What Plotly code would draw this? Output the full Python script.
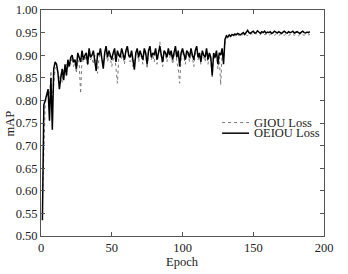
import plotly.graph_objects as go

epochs = list(range(1, 191))

oeiou = [
    0.535, 0.790, 0.800, 0.815, 0.825, 0.755, 0.850, 0.735, 0.870, 0.885,
    0.880, 0.860, 0.825, 0.850, 0.870, 0.845, 0.880, 0.855, 0.890, 0.875,
    0.895, 0.900, 0.885, 0.890, 0.870, 0.905, 0.895, 0.885, 0.910, 0.890,
    0.900, 0.905, 0.880, 0.915, 0.895, 0.900, 0.910, 0.890, 0.865, 0.905,
    0.900, 0.915, 0.895, 0.870, 0.905, 0.920, 0.895, 0.910, 0.900, 0.890,
    0.905, 0.915, 0.885, 0.910, 0.900, 0.895, 0.915, 0.905, 0.890, 0.910,
    0.920, 0.900, 0.895, 0.910, 0.885, 0.868, 0.905, 0.915, 0.895, 0.910,
    0.900, 0.890, 0.915, 0.905, 0.880, 0.910, 0.920, 0.895, 0.905, 0.900,
    0.915, 0.890, 0.905, 0.920, 0.900, 0.885, 0.910, 0.905, 0.895, 0.915,
    0.900, 0.910, 0.890, 0.905, 0.920, 0.895, 0.910, 0.875, 0.905, 0.915,
    0.900, 0.890, 0.910, 0.905, 0.895, 0.915, 0.900, 0.890, 0.910, 0.920,
    0.895, 0.905, 0.885, 0.910, 0.900, 0.895, 0.915, 0.890, 0.905, 0.895,
    0.855, 0.905, 0.895, 0.910, 0.880, 0.905, 0.900, 0.915, 0.880, 0.935,
    0.943, 0.940, 0.945, 0.942, 0.946, 0.944, 0.947, 0.945, 0.948, 0.946,
    0.945, 0.948, 0.950, 0.946, 0.952, 0.955, 0.950, 0.948, 0.951, 0.953,
    0.949, 0.950, 0.954, 0.951, 0.948, 0.952, 0.950, 0.953, 0.949, 0.951,
    0.950, 0.952, 0.948, 0.950, 0.953, 0.951, 0.949, 0.952, 0.950, 0.948,
    0.951, 0.953, 0.950, 0.949, 0.952, 0.950, 0.951, 0.953, 0.949, 0.950,
    0.952, 0.950, 0.948, 0.951, 0.953, 0.950, 0.949, 0.951, 0.950, 0.952,
]

giou = [
    0.570, 0.720, 0.795, 0.805, 0.820, 0.790, 0.865, 0.800, 0.830, 0.870,
    0.875, 0.855, 0.845, 0.860, 0.840, 0.870, 0.860, 0.880, 0.870, 0.885,
    0.880, 0.895, 0.875, 0.885, 0.860, 0.890, 0.880, 0.815, 0.895, 0.885,
    0.890, 0.900, 0.875, 0.905, 0.890, 0.895, 0.880, 0.900, 0.885, 0.860,
    0.895, 0.905, 0.890, 0.880, 0.900, 0.910, 0.885, 0.900, 0.895, 0.875,
    0.890, 0.905, 0.870, 0.838, 0.895, 0.905, 0.890, 0.900, 0.880, 0.905,
    0.910, 0.895, 0.885, 0.900, 0.875, 0.890, 0.900, 0.910, 0.885, 0.905,
    0.895, 0.880, 0.910, 0.900, 0.870, 0.905, 0.915, 0.890, 0.900, 0.885,
    0.910, 0.880, 0.900, 0.930, 0.895, 0.875, 0.905, 0.900, 0.885, 0.910,
    0.895, 0.905, 0.880, 0.900, 0.915, 0.885, 0.870, 0.838, 0.895, 0.910,
    0.895, 0.880, 0.905, 0.900, 0.885, 0.910, 0.895, 0.875, 0.905, 0.915,
    0.890, 0.900, 0.880, 0.905, 0.895, 0.885, 0.910, 0.880, 0.900, 0.890,
    0.852, 0.900, 0.890, 0.905, 0.870, 0.895, 0.834, 0.905, 0.890, 0.925,
    0.940, 0.938, 0.942, 0.940, 0.944, 0.941, 0.945, 0.942, 0.946, 0.943,
    0.947, 0.944, 0.946, 0.949, 0.945, 0.943, 0.947, 0.950, 0.946, 0.944,
    0.946, 0.948, 0.945, 0.943, 0.946, 0.948, 0.944, 0.946, 0.947, 0.945,
    0.943, 0.946, 0.948, 0.945, 0.944, 0.947, 0.945, 0.943, 0.946, 0.948,
    0.945, 0.944, 0.947, 0.946, 0.943, 0.945, 0.948, 0.946, 0.944, 0.947,
    0.945, 0.943, 0.946, 0.948, 0.945, 0.944, 0.946, 0.947, 0.945, 0.946,
]

x_ticks = [0, 50, 100, 150, 200]
y_ticks = [0.50, 0.55, 0.60, 0.65, 0.70, 0.75, 0.80, 0.85, 0.90, 0.95, 1.00]
series_names = ["GIOU Loss", "OEIOU Loss"]

FONT = "Liberation Serif, Times New Roman, serif"
TXT = "#222222"

fig = go.Figure()
giou_line = dict(color="#7a7a7a", width=1, dash="dot")
oeiou_line = dict(color="#000000", width=1.5)
fig.add_trace(go.Scatter(x=epochs, y=giou, mode="lines", name=series_names[0],
                         line=giou_line, showlegend=False))
fig.add_trace(go.Scatter(x=epochs, y=oeiou, mode="lines", name=series_names[1],
                         line=oeiou_line, showlegend=False))

axis_common = dict(showline=True, linecolor="#555555", linewidth=1, mirror="allticks",
                   ticks="inside", ticklen=4, tickcolor="#555555", showgrid=False,
                   zeroline=False, automargin=False,
                   tickfont=dict(family=FONT, size=12.5, color=TXT))

fig.update_xaxes(range=[0, 200], tickvals=x_ticks, **axis_common)
fig.update_yaxes(range=[0.5, 1.0], tickvals=y_ticks, ticktext=[f"{v:.2f}" for v in y_ticks],
                 **axis_common)

# axis titles
fig.add_annotation(text="Epoch", xref="paper", yref="paper", x=0.5, y=-0.115,
                   xanchor="center", yanchor="middle", showarrow=False,
                   font=dict(family=FONT, size=12.5, color=TXT))
fig.add_annotation(text="mAP", xref="paper", yref="paper", x=-0.108, y=0.5,
                   xanchor="center", yanchor="middle", textangle=-90, showarrow=False,
                   font=dict(family=FONT, size=12.5, color=TXT))

# manual legend (compact spacing like the reference)
leg_items = [(series_names[0], giou_line, 0.502), (series_names[1], oeiou_line, 0.455)]
for name, ln, yy in leg_items:
    fig.add_shape(type="line", xref="paper", yref="paper", x0=0.64, x1=0.735, y0=yy, y1=yy,
                  line=ln)
    fig.add_annotation(text=name, xref="paper", yref="paper", x=0.745, y=yy,
                       xanchor="left", yanchor="middle", showarrow=False,
                       font=dict(family=FONT, size=12.5, color=TXT))

fig.update_layout(
    width=348, height=274,
    margin=dict(l=41, r=24, t=10, b=38),
    paper_bgcolor="white", plot_bgcolor="white",
    font=dict(family=FONT, size=12, color=TXT),
    showlegend=False,
)

fig.write_html("out.html", config={"displayModeBar": False},
               post_script="document.body.style.margin='0';document.body.style.overflow='hidden';")
